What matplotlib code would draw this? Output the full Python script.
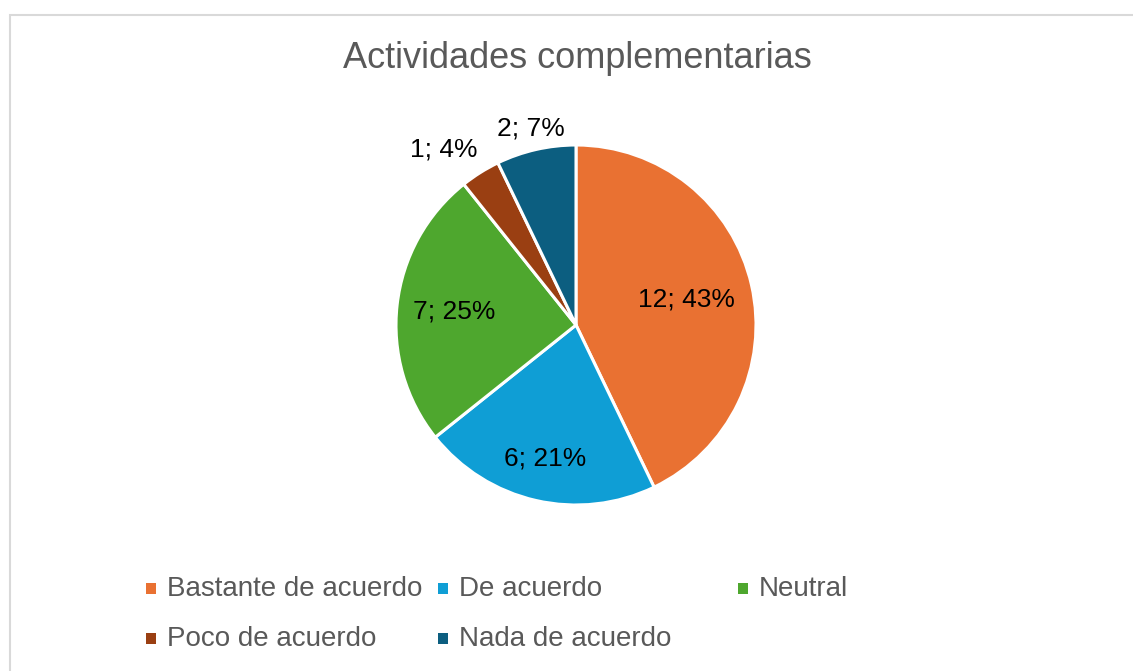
import numpy as np
import matplotlib
matplotlib.use("Agg")
import matplotlib.pyplot as plt
from matplotlib.patches import Rectangle

plt.rcParams["font.family"] = ["Liberation Sans", "DejaVu Sans"]

# ===============================
# DATA
# ===============================
TITLE = "Actividades complementarias"
categories = ["Bastante de acuerdo", "De acuerdo", "Neutral",
              "Poco de acuerdo", "Nada de acuerdo"]
counts = [12, 6, 7, 1, 2]
colors = ["#E97132", "#0F9ED5", "#4EA72E", "#9A3F12", "#0C5E80"]

# label distance from centre (fraction of radius), Excel "best fit" look
label_r = [0.63, 0.76, 0.68, 1.22, 1.12]
label_dang = [0, 0, 0, 5, 0]  # small angle nudge in degrees

W, H = 1133, 671
fig = plt.figure(figsize=(W / 100, H / 100), dpi=100)

# chart frame
fig.add_artist(Rectangle((10 / W, -0.1), 1.2, 1 - 15 / H + 0.1,
                         transform=fig.transFigure, fill=False,
                         edgecolor="#D9D9D9", linewidth=1.5))

fig.text(577 / W, 1 - 58 / H, TITLE, ha="center", va="center",
         fontsize=26, color="#595959")

# ===============================
# PIE
# ===============================
cx, cy, rad = 576, 325, 180
ax = fig.add_axes([(cx - rad) / W, (H - cy - rad) / H, 2 * rad / W, 2 * rad / H])
wedges, _ = ax.pie(counts, colors=colors, startangle=90, counterclock=False,
                   wedgeprops=dict(edgecolor="white", linewidth=2.2))
ax.set_xlim(-1, 1)
ax.set_ylim(-1, 1)
ax.set_aspect("equal")
ax.axis("off")

total = sum(counts)
for w, c, r, da in zip(wedges, counts, label_r, label_dang):
    mid = np.deg2rad((w.theta1 + w.theta2) / 2 + da)
    ax.text(r * np.cos(mid), r * np.sin(mid), f"{c}; {round(100 * c / total)}%",
            ha="center", va="center", fontsize=19, color="black", clip_on=False)

# ===============================
# LEGEND (Excel-like fixed columns)
# ===============================
col_x = [146, 438, 738]
row_y = [589, 639]
for i, (name, col) in enumerate(zip(categories, colors)):
    x = col_x[i % 3]
    y = row_y[i // 3]
    fig.add_artist(Rectangle((x / W, (H - y - 5) / H), 10 / W, 11 / H,
                             transform=fig.transFigure, facecolor=col,
                             edgecolor="none"))
    fig.text((x + 21) / W, (H - y) / H, name, ha="left", va="center",
             fontsize=20, color="#595959")

fig.savefig("out.png", dpi=100, facecolor="white")
